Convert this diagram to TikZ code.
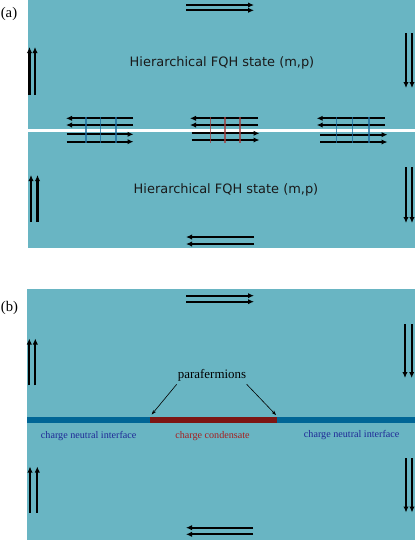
\documentclass[tikz,border=0pt]{standalone}
\usepackage{fontspec}
\setmainfont{Liberation Serif}
\newfontfamily\dejavu{DejaVu Sans}
\usetikzlibrary{arrows.meta}
\definecolor{qhteal}{RGB}{105,181,195}
\definecolor{barblue}{RGB}{0,102,150}
\definecolor{barred}{RGB}{125,22,20}
\definecolor{lblblue}{RGB}{30,40,150}
\definecolor{lblred}{RGB}{165,30,30}
\definecolor{vblue}{RGB}{30,110,160}
\definecolor{vred}{RGB}{165,60,60}
\begin{document}
\begin{tikzpicture}[x=0.75pt,y=-0.75pt,
  flow/.style={line width=1.6pt,-{Latex[length=4.5pt,width=4pt]}},
  bond/.style={line width=1.1pt,opacity=0.75},
  statetext/.style={font=\dejavu\fontsize{9.7}{11}\selectfont,text=black!90,inner sep=0pt},
  panellbl/.style={font=\fontsize{11}{13}\selectfont,inner sep=0pt},
  smalllbl/.style={font=\fontsize{7.6}{9}\selectfont,inner sep=0pt},
  pflbl/.style={font=\fontsize{9.7}{11}\selectfont,inner sep=0pt},
  pointer/.style={line width=0.45pt,-{Stealth[length=3.5pt,width=2.5pt]}}]
\useasboundingbox (0,0) rectangle (415,540);
% ---------------- panel (a)
\fill[qhteal] (28,0) rectangle (415,248);
\fill[white] (28,128.7) rectangle (415,131.7);
\node[panellbl] (la) at (9,14) {(a)};
\node[statetext] (sa1) at (222,63) {Hierarchical FQH state (m,p)};
\node[statetext] (sa2) at (226,190) {Hierarchical FQH state (m,p)};
% outer edge arrows, upper half
\draw[flow] (186,5) -- (254,5);
\draw[flow] (186,10.3) -- (254,10.3);
\draw[flow] (29.5,95) -- (29.5,47);
\draw[flow] (35,95) -- (35,47);
\draw[flow] (406,33) -- (406,88);
\draw[flow] (412,33) -- (412,88);
% outer edge arrows, lower half
\draw[flow] (31,222) -- (31,175);
\draw[flow] (37.5,222) -- (37.5,175);
\draw[flow] (406,167) -- (406,223);
\draw[flow] (412,167) -- (412,223);
\draw[flow] (254,237) -- (186,237);
\draw[flow] (254,244) -- (186,244);
% junction groups
\foreach \xa/\xb in {66/133, 190/258, 316.7/384.5}{
  \draw[flow] (\xb,118.3) -- (\xa,118.3);
  \draw[flow] (\xb,125) -- (\xa,125);
}
\draw[flow] (66.7,134.3) -- (133.5,134.3);
\draw[flow] (66.7,141.7) -- (133.5,141.7);
\draw[flow] (191.7,133.3) -- (259.5,133.3);
\draw[flow] (191.7,140) -- (259.5,140);
\draw[flow] (320,134.7) -- (387.5,134.7);
\draw[flow] (320,142) -- (387.5,142);
\foreach \x in {86,100.7,116}{\draw[bond,vblue] (\x,116.7) -- (\x,143.3);}
\foreach \x in {210.7,225,240}{\draw[bond,vred] (\x,116.7) -- (\x,142.7);}
\foreach \x in {336.7,352.3,369}{\draw[bond,vblue] (\x,116.7) -- (\x,143.3);}
% ---------------- panel (b)
\fill[qhteal] (27,289) rectangle (415,540);
\node[panellbl] (lb) at (9.5,308) {(b)};
\draw[flow] (186,295.7) -- (254,295.7);
\draw[flow] (186,301.7) -- (254,301.7);
\draw[flow] (29.3,385.3) -- (29.3,338.5);
\draw[flow] (35.3,385.3) -- (35.3,338.5);
\draw[flow] (405,324) -- (405,378);
\draw[flow] (411.7,324) -- (411.7,378);
\draw[flow] (30,512.7) -- (30,466.5);
\draw[flow] (37.3,512.7) -- (37.3,466.5);
\draw[flow] (406,458) -- (406,512.5);
\draw[flow] (412,458) -- (412,512.5);
\draw[flow] (253,527.7) -- (186,527.7);
\draw[flow] (253,534.3) -- (186,534.3);
% interface bar
\fill[barblue] (27,416.8) rectangle (150,423.3);
\fill[barred] (150,416.8) rectangle (276.7,423.3);
\fill[barblue] (276.7,416.8) rectangle (415,423.3);
\node[smalllbl,text=lblblue] (cn1) at (88.7,436) {charge neutral interface};
\node[smalllbl,text=lblred] (cc) at (212.5,436) {charge condensate};
\node[smalllbl,text=lblblue] (cn2) at (351.7,435.5) {charge neutral interface};
\node[pflbl] (pf) at (212,375) {parafermions};
\coordinate (pfl) at (176.7,384.3);
\coordinate (pfr) at (246.7,384.3);
\coordinate (tipl) at (151.7,414.5);
\coordinate (tipr) at (276,415);
\draw[pointer] (pfl) -- (tipl);
\draw[pointer] (pfr) -- (tipr);
\end{tikzpicture}
\end{document}
